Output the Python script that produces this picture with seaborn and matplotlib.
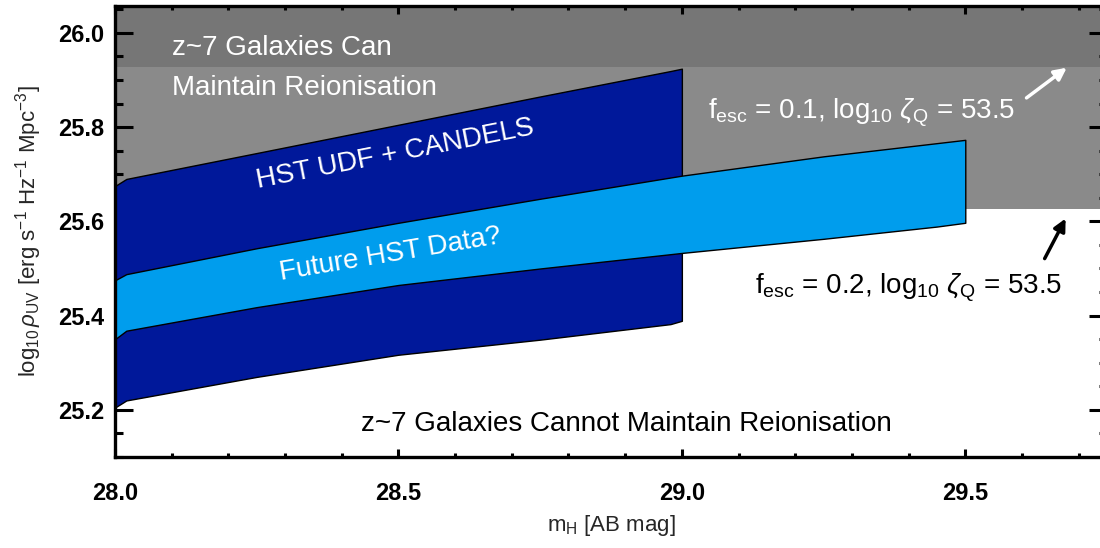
import matplotlib
matplotlib.use('Agg')
import matplotlib.pyplot as plt
import seaborn as sns
import numpy as np

# HST UDF + CANDELS region (dark blue)
hst_mag = [28.0, 28.02, 28.25, 28.5, 28.75, 28.98, 29.0]
hst_top = [25.675, 25.690, 25.745, 25.805, 25.865, 25.919, 25.924]
hst_bot = [25.205, 25.220, 25.270, 25.317, 25.349, 25.382, 25.389]

# Future HST data region (light blue)
fut_mag = [28.0, 28.02, 28.25, 28.5, 28.75, 29.0, 29.25, 29.45, 29.5]
fut_top = [25.475, 25.488, 25.543, 25.597, 25.648, 25.697, 25.738, 25.766, 25.773]
fut_bot = [25.350, 25.368, 25.418, 25.465, 25.500, 25.533, 25.563, 25.589, 25.597]

# reionisation thresholds (log10 zeta_Q = 53.5)
thresh_f01 = 25.928
thresh_f02 = 25.627

sns.set_theme(style='ticks')
plt.rcParams['font.family'] = ['Liberation Sans', 'DejaVu Sans']
plt.rcParams['mathtext.fontset'] = 'custom'
plt.rcParams['mathtext.rm'] = 'Liberation Sans'
plt.rcParams['mathtext.it'] = 'Liberation Sans:italic'

fig = plt.figure(figsize=(11, 5.48), dpi=100)
ax = fig.add_axes([115 / 1100, 91 / 548, 992 / 1100, 451 / 548])

xlim = (28.0, 29.75)
ylim = (25.1, 26.057)

ax.axhspan(thresh_f01, ylim[1], color='#767676', lw=0, zorder=0)
ax.axhspan(thresh_f02, thresh_f01, color='#8a8a8a', lw=0, zorder=0)

ax.fill_between(hst_mag, hst_bot, hst_top, facecolor='#00189a',
                edgecolor='black', linewidth=1.0, zorder=2)
ax.fill_between(fut_mag, fut_bot, fut_top, facecolor='#009ded',
                edgecolor='black', linewidth=1.0, zorder=3)

ax.set_xlim(*xlim)
ax.set_ylim(*ylim)

ax.set_xticks(np.arange(28.0, 29.6, 0.5))
ax.set_xticks(np.arange(28.0, 29.76, 0.1), minor=True)
ax.set_yticks(np.arange(25.2, 26.01, 0.2))
ax.set_yticks(np.arange(25.1, 26.06, 0.05), minor=True)
ax.set_xticklabels(['28.0', '28.5', '29.0', '29.5'])
ax.set_yticklabels(['25.2', '25.4', '25.6', '25.8', '26.0'])

ax.tick_params(axis='both', which='both', direction='in', top=True, right=True,
               colors='black', width=2.2)
ax.tick_params(axis='x', which='major', length=6, pad=18, labelsize=17)
ax.tick_params(axis='x', which='minor', length=3)
ax.tick_params(axis='y', which='major', length=13, pad=8, labelsize=17)
ax.tick_params(axis='y', which='minor', length=6)
for lab in ax.get_xticklabels() + ax.get_yticklabels():
    lab.set_fontweight('bold')
for sp in ax.spines.values():
    sp.set_linewidth(2.4)
    sp.set_color('black')
    sp.set_zorder(10)

ax.set_xlabel(r'm$_{\rm H}$ [AB mag]', fontsize=16, labelpad=6)
ax.set_ylabel(r'log$_{10}\,\mathit{\rho}_{\rm UV}$ [erg s$^{-1}$ Hz$^{-1}$ Mpc$^{-3}$]',
              fontsize=16, labelpad=10)

fs = 20
ax.text(28.10, 25.968, 'z~7 Galaxies Can', color='white', fontsize=fs,
        va='center', ha='left', zorder=5)
ax.text(28.10, 25.883, 'Maintain Reionisation', color='white', fontsize=fs,
        va='center', ha='left', zorder=5)
ax.text(28.494, 25.743, 'HST UDF + CANDELS', color='white', fontsize=fs,
        va='center', ha='center', rotation=11, zorder=5)
ax.text(28.485, 25.530, 'Future HST Data?', color='white', fontsize=fs,
        va='center', ha='center', rotation=9.5, zorder=5)
ax.text(29.046, 25.832, r'f$_{\rm esc}$ = 0.1, log$_{10}$ $\zeta_{\rm Q}$ = 53.5',
        color='white', fontsize=fs, va='center', ha='left', zorder=5)
ax.text(29.129, 25.459, r'f$_{\rm esc}$ = 0.2, log$_{10}$ $\zeta_{\rm Q}$ = 53.5',
        color='black', fontsize=fs, va='center', ha='left', zorder=5)
ax.text(28.903, 25.170, 'z~7 Galaxies Cannot Maintain Reionisation', color='black',
        fontsize=fs, va='center', ha='center', zorder=5)

ax.annotate('', xy=(29.679, 25.926), xytext=(29.608, 25.862),
            arrowprops=dict(arrowstyle='-|>', color='white', lw=2.5, mutation_scale=18,
                            shrinkA=0, shrinkB=0),
            zorder=6)
ax.annotate('', xy=(29.677, 25.606), xytext=(29.640, 25.521),
            arrowprops=dict(arrowstyle='-|>', color='black', lw=2.5, mutation_scale=18,
                            shrinkA=0, shrinkB=0),
            zorder=6)

fig.savefig('out.png', dpi=100)
